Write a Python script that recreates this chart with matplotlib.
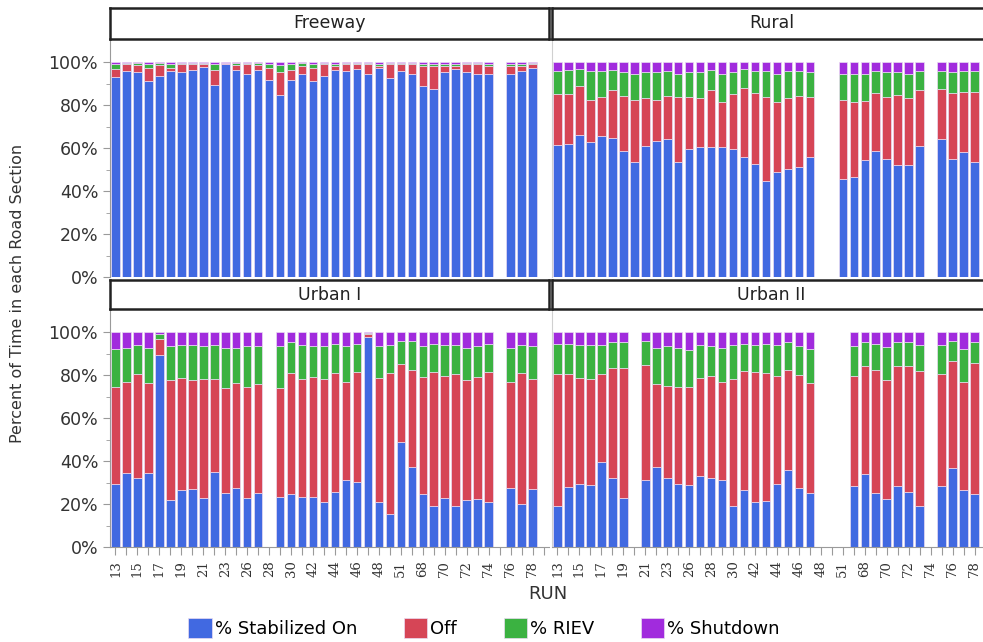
import numpy as np
import matplotlib
matplotlib.use("Agg")
import matplotlib.pyplot as plt
from matplotlib.ticker import FixedLocator

nan = np.nan

# run ids (only every other one is labelled on the axis)
runs = [13, 14, 15, 16, 17, 18, 19, 20, 21, 22, 23, 24, 26, 27, 28, 29, 30, 41, 42, 43,
        44, 45, 46, 47, 48, 50, 51, 67, 68, 69, 70, 71, 72, 73, 74, 75, 76, 77, 78, 79]

# Freeway
fw_stab = [93.0, 95.7, 95.2, 91.2, 93.3, 95.7, 95.2, 96.4, 97.7, 89.3, 98.9, 96.4, 94.6, 96.4, 91.8, 84.8, 91.5, 94.6, 91.2, 93.3,
           96.4, 95.7, 96.9, 94.6, 97.4, 92.4, 95.7, 94.6, 88.8, 87.6, 95.2, 96.9, 95.2, 94.6, 94.6, nan, 94.6, 95.7, 97.4, nan]
fw_off = [3.9, 3.5, 3.2, 6.2, 5.1, 1.7, 4.0, 2.8, 1.5, 7.1, 0.6, 2.0, 4.6, 2.0, 5.6, 10.5, 4.9, 3.5, 6.2, 5.6,
          1.7, 3.5, 2.3, 4.6, 0.7, 6.7, 3.5, 4.3, 9.3, 10.5, 2.9, 1.2, 4.0, 4.6, 3.5, nan, 3.5, 2.4, 1.8, nan]
fw_riev = [2.3, 0.5, 1.1, 1.8, 1.1, 1.5, 0.3, 0.3, 0.3, 2.5, 0.0, 1.1, 0.3, 1.1, 1.8, 3.1, 2.8, 1.4, 1.8, 0.6,
           1.1, 0.3, 0.3, 0.3, 1.1, 0.4, 0.3, 0.6, 1.1, 1.1, 1.1, 1.1, 0.3, 0.3, 1.1, nan, 1.1, 1.1, 0.3, nan]
fw_shut = [0.8, 0.3, 0.5, 0.8, 0.5, 1.1, 0.5, 0.5, 0.5, 1.1, 0.5, 0.5, 0.5, 0.5, 0.8, 1.6, 0.8, 0.5, 0.8, 0.5,
           0.8, 0.5, 0.5, 0.5, 0.8, 0.5, 0.5, 0.5, 0.8, 0.8, 0.8, 0.8, 0.5, 0.5, 0.8, nan, 0.8, 0.8, 0.5, nan]

# Rural
ru_stab = [61.6, 62.0, 66.0, 62.6, 65.4, 64.5, 58.4, 53.3, 60.9, 63.1, 64.3, 53.3, 59.7, 60.3, 60.3, 60.3, 59.7, 55.8, 52.7, 44.8,
           48.7, 50.2, 51.2, 55.8, nan, nan, 45.4, 46.5, 54.6, 58.4, 55.0, 52.2, 52.2, 60.8, nan, 64.3, 55.0, 58.1, 53.5, nan]
ru_off = [23.4, 23.3, 22.8, 19.9, 18.3, 22.3, 25.8, 29.2, 22.2, 19.4, 19.9, 30.4, 24.0, 22.8, 26.8, 21.1, 25.3, 32.0, 32.7, 38.9,
          32.7, 32.9, 33.0, 27.9, nan, nan, 37.1, 34.9, 27.4, 27.2, 28.7, 32.6, 31.1, 26.0, nan, 23.0, 30.6, 27.9, 32.5, nan]
ru_riev = [10.8, 11.1, 8.1, 13.3, 12.1, 9.6, 11.0, 12.1, 12.1, 12.7, 11.6, 10.9, 11.5, 12.1, 9.3, 13.2, 10.2, 9.1, 10.4, 12.1,
           13.2, 12.7, 11.6, 11.5, nan, nan, 12.1, 13.2, 12.6, 10.4, 11.6, 10.5, 11.3, 9.2, nan, 8.7, 9.7, 10.0, 10.0, nan]
ru_shut = [4.2, 3.6, 3.1, 4.2, 4.2, 3.6, 4.8, 5.4, 4.8, 4.8, 4.2, 5.4, 4.8, 4.8, 3.6, 5.4, 4.8, 3.1, 4.2, 4.2,
           5.4, 4.2, 4.2, 4.8, nan, nan, 5.4, 5.4, 5.4, 4.0, 4.7, 4.7, 5.4, 4.0, nan, 4.0, 4.7, 4.0, 4.0, nan]

# Urban I
u1_stab = [29.1, 34.4, 31.9, 34.4, 89.1, 21.7, 26.4, 26.8, 22.8, 35.0, 25.1, 27.4, 22.8, 25.1, nan, 23.3, 24.5, 23.3, 23.3, 21.1,
           25.7, 31.3, 30.2, 97.7, 21.1, 15.5, 48.7, 37.2, 24.5, 18.9, 22.8, 18.9, 21.7, 22.3, 21.1, nan, 27.4, 20.2, 26.8, nan]
u1_off = [45.3, 42.3, 48.4, 41.9, 7.8, 55.8, 52.2, 50.7, 55.2, 43.0, 48.9, 48.9, 51.6, 50.6, nan, 50.7, 56.4, 54.7, 55.8, 56.9,
          55.2, 45.4, 51.2, 1.6, 57.5, 65.4, 36.3, 45.3, 54.6, 62.5, 56.7, 61.4, 55.8, 56.8, 60.3, nan, 49.3, 60.7, 51.2, nan]
u1_riev = [17.8, 16.0, 13.8, 16.4, 2.3, 15.8, 15.5, 16.3, 15.3, 16.1, 18.7, 16.4, 18.9, 17.6, nan, 19.3, 14.3, 16.1, 14.2, 15.3,
           13.7, 16.6, 13.2, 0.2, 14.7, 13.2, 10.7, 13.2, 14.2, 13.2, 14.3, 13.8, 15.2, 14.2, 13.2, nan, 16.0, 13.2, 15.3, nan]
u1_shut = [7.8, 7.3, 5.9, 7.3, 0.8, 6.7, 5.9, 6.2, 6.7, 5.9, 7.3, 7.3, 6.7, 6.7, nan, 6.7, 4.8, 5.9, 6.7, 6.7,
           5.4, 6.7, 5.4, 0.5, 6.7, 5.9, 4.3, 4.3, 6.7, 5.4, 6.2, 5.9, 7.3, 6.7, 5.4, nan, 7.3, 5.9, 6.7, nan]

# Urban II
u2_stab = [19.2, 27.9, 29.1, 28.7, 39.5, 31.9, 22.8, nan, 31.3, 37.2, 31.9, 29.1, 28.7, 33.2, 31.9, 31.3, 19.2, 26.4, 21.1, 21.4,
           29.1, 36.0, 27.4, 25.1, nan, nan, nan, 28.2, 33.8, 25.3, 22.3, 28.5, 25.7, 18.9, nan, 28.2, 36.9, 26.4, 24.8, nan]
u2_off = [61.4, 52.7, 49.5, 49.3, 41.1, 51.2, 60.3, nan, 53.5, 38.5, 43.1, 45.3, 45.7, 45.4, 47.8, 45.4, 58.8, 55.5, 60.3, 59.4,
          50.6, 46.5, 52.8, 51.2, nan, nan, nan, 51.5, 50.5, 57.2, 55.5, 55.8, 58.6, 63.0, nan, 52.1, 49.8, 50.5, 60.6, nan]
u2_riev = [14.0, 14.0, 15.5, 16.1, 13.5, 12.1, 12.1, nan, 10.9, 17.0, 18.3, 18.3, 17.4, 15.5, 13.6, 16.0, 16.1, 12.7, 12.7, 13.8,
           14.4, 12.7, 13.1, 15.9, nan, nan, nan, 13.8, 10.9, 12.1, 15.1, 10.9, 10.9, 12.2, nan, 13.8, 9.1, 15.3, 9.8, nan]
u2_shut = [5.4, 5.4, 5.9, 5.9, 5.9, 4.8, 4.8, nan, 4.3, 7.3, 6.7, 7.3, 8.2, 5.9, 6.7, 7.3, 5.9, 5.4, 5.9, 5.4,
           5.9, 4.8, 6.7, 7.8, nan, nan, nan, 6.5, 4.8, 5.4, 7.1, 4.8, 4.8, 5.9, nan, 5.9, 4.2, 7.8, 4.8, nan]

series_names = ["% Stabilized On", "Off", "% RIEV", "% Shutdown"]
colors = ["#4169E1", "#D64556", "#3BB241", "#A12BDD"]

sections = [
    ("Freeway", [fw_stab, fw_off, fw_riev, fw_shut]),
    ("Rural", [ru_stab, ru_off, ru_riev, ru_shut]),
    ("Urban I", [u1_stab, u1_off, u1_riev, u1_shut]),
    ("Urban II", [u2_stab, u2_off, u2_riev, u2_shut]),
]

W, H = 983, 642
fig = plt.figure(figsize=(W / 100, H / 100), dpi=100)

# panel boxes in pixels: left edge, and (strip top, plot top, plot bottom)
lefts = [110, 552, 110, 552]
panel_w = 439
rows = [(8, 39, 277), (8, 39, 277), (280, 309, 547), (280, 309, 547)]

x = np.arange(len(runs))
grey = "#9a9a9a"
handles = None

for i, (name, vals) in enumerate(sections):
    L = lefts[i]
    st, pt, pb = rows[i]
    ax = fig.add_axes([L / W, 1 - pb / H, panel_w / W, (pb - pt) / H])
    sax = fig.add_axes([L / W, 1 - pt / H, panel_w / W, (pt - st) / H])

    bottom = np.zeros(len(runs))
    bars = []
    for v, c, lab in zip(vals, colors, series_names):
        v = np.array(v, dtype=float)
        b = ax.bar(x, v, bottom=bottom, width=0.78, color=c, edgecolor="#eadcf2",
                   linewidth=0.5, label=lab)
        bars.append(b)
        bottom = bottom + v
    if handles is None:
        handles = bars

    ax.set_xlim(-0.5, len(runs) - 0.5)
    ax.set_ylim(0, 110.7)
    for s in ["top", "right"]:
        ax.spines[s].set_visible(False)
    ax.spines["left"].set_color(grey)
    ax.spines["bottom"].set_color(grey)

    ax.yaxis.set_major_locator(FixedLocator([0, 20, 40, 60, 80, 100]))
    ax.yaxis.set_minor_locator(FixedLocator([10, 30, 50, 70, 90]))
    ax.tick_params(axis="y", which="both", colors=grey, labelcolor="#333333", labelsize=12.5)
    ax.tick_params(axis="y", which="major", length=5)
    ax.tick_params(axis="y", which="minor", length=3)
    if i % 2 == 0:
        ax.set_yticklabels(["%d%%" % t for t in [0, 20, 40, 60, 80, 100]])
    else:
        ax.tick_params(axis="y", which="both", left=False, labelleft=False)
        ax.spines["left"].set_color("#d0d0d0")

    if i >= 2:
        ax.set_xticks(x)
        ax.set_xticklabels([str(r) if k % 2 == 0 else "" for k, r in enumerate(runs)],
                           rotation=90, fontsize=9.5, family="DejaVu Serif", color="#333333")
        ax.tick_params(axis="x", colors=grey, labelcolor="#333333", length=6)
    else:
        ax.set_xticks([])
        ax.spines["bottom"].set_visible(False)

    sax.set_xticks([])
    sax.set_yticks([])
    for s in sax.spines.values():
        s.set_linewidth(1.8)
        s.set_color("#222222")
    sax.text(0.5, 0.5, name, transform=sax.transAxes, ha="center", va="center",
             fontsize=12.5, color="#222222")

fig.text(18 / W, 1 - 293 / H, "Percent of Time in each Road Section", rotation=90,
         ha="center", va="center", fontsize=11.5, color="#333333")
fig.text(548 / W, 1 - 594 / H, "RUN", ha="center", va="center", fontsize=13, color="#333333")

fig.legend(handles=handles, labels=series_names, loc="center", bbox_to_anchor=(484 / W, 1 - 628 / H),
           ncol=4, frameon=False, fontsize=13, handlelength=1.3, handleheight=1.3,
           handletextpad=0.15, columnspacing=2.6, borderaxespad=0)

fig.savefig("out.png", dpi=100)
